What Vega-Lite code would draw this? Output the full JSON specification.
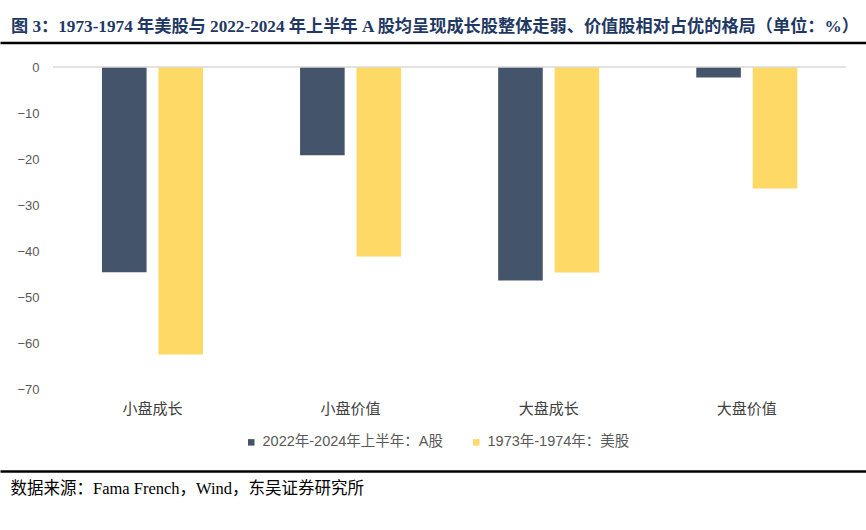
{
  "$schema": "https://vega.github.io/schema/vega-lite/v6.json",
  "width": 866,
  "height": 322,
  "autosize": {"type": "none"},
  "padding": {"top": 67, "left": 0, "right": 0, "bottom": 141},
  "background": "white",
  "title": {
    "text": "图 3：1973-1974 年美股与 2022-2024 年上半年 A 股均呈现成长股整体走弱、价值股相对占优的格局（单位：%）",
    "anchor": "start",
    "frame": "group",
    "dx": 11,
    "offset": 7,
    "font": "Liberation Serif, Noto Sans CJK SC",
    "fontSize": 17.2,
    "fontWeight": "bold",
    "color": "#1F3864"
  },
  "config": {
    "view": {"stroke": null},
    "axis": {"grid": false}
  },
  "layer": [
    {
      "data": {
        "values": [
          {"category": "小盘成长", "series": "2022年-2024年上半年：A股", "value": -44.6},
          {"category": "小盘成长", "series": "1973年-1974年：美股", "value": -62.5},
          {"category": "小盘价值", "series": "2022年-2024年上半年：A股", "value": -19.2},
          {"category": "小盘价值", "series": "1973年-1974年：美股", "value": -41.2},
          {"category": "大盘成长", "series": "2022年-2024年上半年：A股", "value": -46.4},
          {"category": "大盘成长", "series": "1973年-1974年：美股", "value": -44.7},
          {"category": "大盘价值", "series": "2022年-2024年上半年：A股", "value": -2.3},
          {"category": "大盘价值", "series": "1973年-1974年：美股", "value": -26.4}
        ]
      },
      "mark": {"type": "bar"},
      "encoding": {
        "x": {
          "field": "category",
          "type": "nominal",
          "sort": ["小盘成长", "小盘价值", "大盘成长", "大盘价值"],
          "scale": {
            "type": "band",
            "domain": ["小盘成长", "小盘价值", "大盘成长", "大盘价值"],
            "paddingInner": 0.49,
            "paddingOuter": 0.4308,
            "align": 0.5975
          },
          "axis": {
            "orient": "bottom",
            "offset": 82,
            "domain": true,
            "domainColor": "#000000",
            "domainWidth": 2.5,
            "ticks": false,
            "tickSize": 0,
            "labelPadding": -63,
            "labelBaseline": "middle",
            "labelAngle": 0,
            "labelFont": "Liberation Serif, Noto Sans CJK SC",
            "labelFontSize": 15,
            "labelColor": "#404040",
            "title": "数据来源：Fama French，Wind，东吴证券研究所",
            "titleX": 10,
            "titleY": 17,
            "titleAnchor": "start",
            "titleAlign": "left",
            "titleBaseline": "middle",
            "titleFont": "Liberation Serif, Noto Sans CJK SC",
            "titleFontSize": 16.5,
            "titleFontWeight": "normal",
            "titleColor": "#000000"
          }
        },
        "xOffset": {
          "field": "series",
          "type": "nominal",
          "sort": ["2022年-2024年上半年：A股", "1973年-1974年：美股"],
          "scale": {"paddingInner": 0.21, "paddingOuter": 0}
        },
        "y": {
          "field": "value",
          "type": "quantitative",
          "title": null,
          "scale": {"domain": [-70, 0], "nice": false, "zero": true},
          "axis": {
            "orient": "left",
            "offset": -39,
            "domain": false,
            "ticks": false,
            "tickSize": 0,
            "labelPadding": 0,
            "values": [0, -10, -20, -30, -40, -50, -60, -70],
            "labelFont": "Liberation Sans",
            "labelFontSize": 13,
            "labelColor": "#595959",
            "title": null
          }
        },
        "color": {
          "field": "series",
          "type": "nominal",
          "sort": ["2022年-2024年上半年：A股", "1973年-1974年：美股"],
          "scale": {
            "domain": ["2022年-2024年上半年：A股", "1973年-1974年：美股"],
            "range": ["#44546A", "#FFD966"]
          },
          "legend": {
            "orient": "none",
            "legendX": 244,
            "legendY": 368,
            "direction": "horizontal",
            "title": null,
            "padding": 0,
            "symbolType": "square",
            "symbolSize": 42,
            "symbolStrokeWidth": 0,
            "labelFont": "Liberation Sans, Noto Sans CJK SC",
            "labelFontSize": 14.5,
            "labelColor": "#595959",
            "labelOffset": 4,
            "labelLimit": 400,
            "columnPadding": 25
          }
        }
      }
    },
    {
      "data": {"values": [{"baseline": 0}]},
      "mark": {"type": "rule", "color": "#D9D9D9", "strokeWidth": 1.5},
      "encoding": {
        "x": {
          "datum": "小盘成长",
          "type": "nominal",
          "bandPosition": -0.485,
          "axis": {
            "orient": "top",
            "offset": 24.5,
            "domain": true,
            "domainColor": "#000000",
            "domainWidth": 2.5,
            "ticks": false,
            "labels": false,
            "title": null
          }
        },
        "x2": {"datum": "大盘价值", "bandPosition": 1.48},
        "y": {"field": "baseline", "type": "quantitative", "title": null}
      }
    }
  ],
  "resolve": {"axis": {"x": "independent"}}
}
